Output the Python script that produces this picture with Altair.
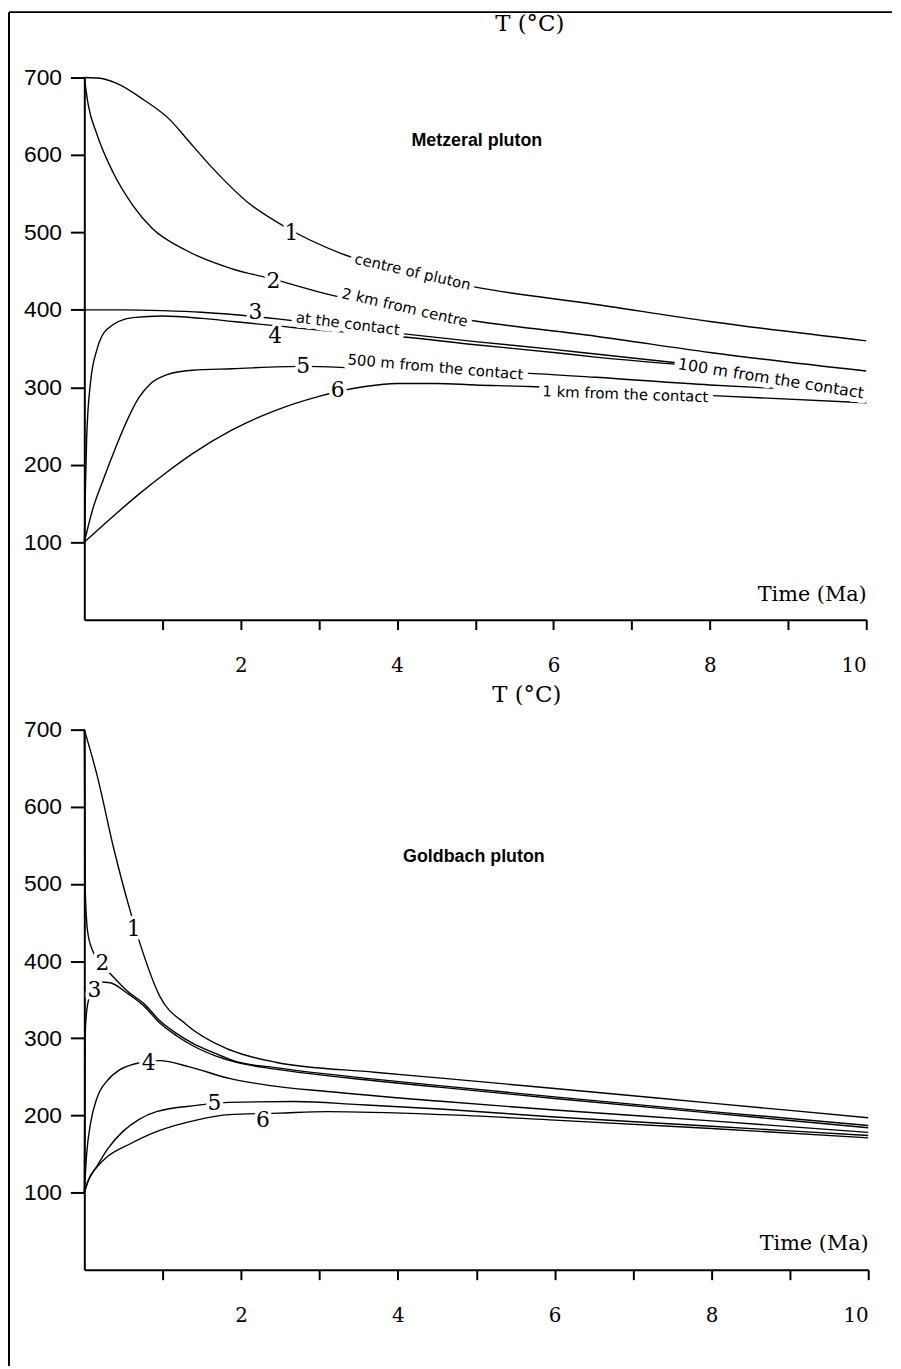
import altair as alt
import pandas as pd

# ---------------- Metzeral pluton (top panel) ----------------
m1_t = [0, 0.2, 0.4, 0.75, 1.1, 1.3, 1.64, 2.1, 2.57, 3.28, 4.0, 5.02, 6.54, 8.0, 10]
m1_T = [700, 699, 693, 672, 645, 622, 583, 538, 507, 473, 451, 429, 407, 385, 360]
m2_t = [0, 0.05, 0.16, 0.37, 0.62, 0.87, 1.3, 1.89, 2.4, 3.16, 4.0, 5.04, 6.54, 8.0, 10]
m2_T = [700, 665, 627, 577, 535, 505, 477, 453, 440, 419, 402, 385, 366, 345, 321]
m3_t = [0, 0.5, 1.0, 1.5, 1.9, 2.5, 3.0, 3.5, 4.09, 5.0, 6.0, 6.54, 7.55]
m3_T = [400, 400, 399, 397, 394, 388, 382, 376, 369, 359, 349, 343, 332]
m4_t = [0, 0.01, 0.03, 0.08, 0.165, 0.29, 0.62, 1.0, 1.5, 1.9, 2.5, 3.0, 3.5, 4.09, 5.0, 6.0, 6.54, 7.55]
m4_T = [100, 150, 234, 307, 350, 375, 390, 392, 389, 385, 379, 374, 370, 365, 355, 345, 339, 330]
m5_t = [0, 0.1, 0.24, 0.4, 0.55, 0.7, 0.85, 1.05, 1.38, 1.89, 2.8, 3.5, 4.5, 5.69, 6.54, 8.0, 9.0, 10]
m5_T = [100, 140, 180, 222, 258, 287, 305, 316, 322, 324, 327, 325, 322, 318, 313, 303, 298, 292]
m6_t = [0, 0.33, 0.71, 1.05, 1.38, 1.89, 2.44, 2.99, 3.59, 4.0, 4.5, 5.0, 5.69, 6.5, 8.1, 10]
m6_T = [100, 130, 163, 190, 214, 245, 270, 288, 301, 305, 305, 303, 301, 296, 289, 280]

# ---------------- Goldbach pluton (bottom panel) ----------------
g1_t = [0, 0.16, 0.38, 0.58, 0.71, 0.96, 1.3, 1.81, 2.06, 2.44, 3.7, 4.59, 6.0, 8.0, 10]
g1_T = [700, 642, 544, 467, 423, 355, 318, 287, 278, 269, 256, 248, 235, 216, 197]
g2_t = [0, 0.01, 0.04, 0.1, 0.2, 0.32, 0.54, 0.76, 0.96, 1.18, 1.39, 1.68, 1.93, 2.44, 3.7, 4.59, 6.0, 8.0, 10]
g2_T = [700, 500, 440, 415, 398, 385, 362, 345, 323, 306, 293, 280, 270, 262, 247, 238, 224, 205, 187]
g3_t = [0, 0.01, 0.03, 0.06, 0.12, 0.2, 0.33, 0.54, 0.76, 0.96, 1.18, 1.39, 1.68, 1.93, 2.44, 3.7, 4.59, 6.0, 8.0, 10]
g3_T = [100, 300, 335, 352, 366, 373, 372, 359, 342, 320, 303, 290, 277, 269, 260, 245, 236, 222, 203, 184]
g4_t = [0, 0.03, 0.08, 0.16, 0.3, 0.45, 0.65, 0.96, 1.34, 1.85, 2.35, 3.1, 4.59, 6.0, 8.0, 10]
g4_T = [100, 150, 190, 222, 246, 259, 267, 271, 263, 248, 239, 231, 218, 207, 193, 178]
g5_t = [0, 0.05, 0.16, 0.3, 0.5, 0.7, 0.92, 1.43, 1.85, 2.69, 3.5, 4.59, 6.0, 8.0, 10]
g5_T = [100, 116, 134, 157, 180, 195, 205, 213, 217, 218, 214, 208, 198, 186, 174]
g6_t = [0, 0.05, 0.1, 0.16, 0.3, 0.58, 0.92, 1.43, 1.85, 2.48, 3.1, 4.59, 6.0, 8.0, 10]
g6_T = [100, 115, 125, 133, 147, 163, 179, 194, 201, 203, 205, 201, 194, 183, 171]

# ---------------- labels ----------------
num_labels = ["1", "2", "3", "4", "5", "6"]
m_num_t = [2.65, 2.42, 2.19, 2.44, 2.8, 3.24]
m_num_T = [499, 437, 397, 366, 328, 296]
g_num_t = [0.63, 0.23, 0.13, 0.82, 1.66, 2.28]
g_num_T = [441, 398, 362, 268, 216, 194]

m_desc = ["centre of pluton", "2 km from centre", "at the contact",
          "500 m from the contact", "1 km from the contact", "100 m from the contact"]
m_desc_t = [4.2, 4.1, 3.37, 4.49, 6.92, 8.78]
m_desc_T = [449, 403, 382, 326, 291, 311]
m_desc_angle = [13, 13, 7, 5, 2, 9]
m_desc_size = [15, 15, 15, 15, 15, 16]

pluton_names = ["Metzeral pluton", "Goldbach pluton"]
pluton_t = [5.02, 4.97]
pluton_T = [618, 535]


def curves(pairs):
    rows = []
    for name, ts, Ts in pairs:
        for t, T in zip(ts, Ts):
            rows.append({"curve": name, "t": t, "T": T})
    return pd.DataFrame(rows)


top_df = curves([("1", m1_t, m1_T), ("2", m2_t, m2_T), ("3", m3_t, m3_T),
                 ("4", m4_t, m4_T), ("5", m5_t, m5_T), ("6", m6_t, m6_T)])
bot_df = curves([("1", g1_t, g1_T), ("2", g2_t, g2_T), ("3", g3_t, g3_T),
                 ("4", g4_t, g4_T), ("5", g5_t, g5_T), ("6", g6_t, g6_T)])

SERIF = "DejaVu Serif"
SANS = "Liberation Sans"


def panel(df, width, height, num_t, num_T, name_t, name_T, name, title_x, title_y,
          xtitle_y, desc=None):
    x = alt.X("t:Q", scale=alt.Scale(domain=[0, 10], nice=False),
              axis=alt.Axis(values=list(range(1, 11)), format="d",
                            labelExpr="datum.value % 2 === 0 ? datum.label : ''",
                            title="Time (Ma)", titleX=width, titleY=xtitle_y,
                            titleAlign="right", titleBaseline="middle",
                            titleFont=SERIF, titleFontSize=21, titleFontWeight="normal",
                            labelFont=SERIF, labelFontSize=20, labelPadding=26,
                            tickSize=10))
    y = alt.Y("T:Q", scale=alt.Scale(domain=[0, 700], nice=False),
              axis=alt.Axis(values=[100, 200, 300, 400, 500, 600, 700], format="d",
                            title="T (°C)", titleAngle=0, titleX=title_x, titleY=title_y,
                            titleAlign="center", titleBaseline="middle",
                            titleFont=SERIF, titleFontSize=23, titleFontWeight="normal",
                            labelFont=SANS, labelFontSize=23, labelPadding=9,
                            tickSize=14))
    lines = alt.Chart(df).mark_line(color="black", strokeWidth=1.4,
                                    interpolate="monotone").encode(
        x=x, y=y, detail="curve:N")

    ndf = pd.DataFrame({"t": num_t, "T": num_T, "label": num_labels})
    nbase = alt.Chart(ndf).encode(x="t:Q", y="T:Q", text="label:N")
    n_halo = nbase.mark_text(font=SERIF, fontSize=22, stroke="white", strokeWidth=7,
                             strokeJoin="round", baseline="middle")
    n_text = nbase.mark_text(font=SERIF, fontSize=22, color="black", baseline="middle")

    pdf = pd.DataFrame({"t": [name_t], "T": [name_T], "label": [name]})
    p_text = alt.Chart(pdf).mark_text(font=SANS, fontSize=18, fontWeight="bold",
                                      color="black", baseline="middle").encode(
        x="t:Q", y="T:Q", text="label:N")

    layers = [lines]
    if desc is not None:
        ddf = pd.DataFrame(desc)
        dbase = alt.Chart(ddf).encode(x="t:Q", y="T:Q", text="label:N",
                                      angle=alt.Angle("angle:Q", scale=None),
                                      size=alt.Size("size:Q", scale=None, legend=None))
        layers.append(dbase.mark_text(font="DejaVu Sans", stroke="white",
                                      strokeWidth=10, strokeJoin="round", baseline="middle"))
        layers.append(dbase.mark_text(font="DejaVu Sans", color="black",
                                      baseline="middle"))
    layers += [n_halo, n_text, p_text]
    return alt.layer(*layers).properties(width=width, height=height)


top = panel(top_df, 789, 547, m_num_t, m_num_T, pluton_t[0], pluton_T[0], pluton_names[0],
            449, -54, -25,
            desc={"t": m_desc_t, "T": m_desc_T, "label": m_desc,
                  "angle": m_desc_angle, "size": m_desc_size})

frame_df = pd.DataFrame({"k": [0]})
frame_left = alt.Chart(frame_df).mark_rule(color="black", strokeWidth=2).encode(
    x=alt.value(-76), y=alt.value(-66), y2=alt.value(1300))
frame_top = alt.Chart(frame_df).mark_rule(color="black", strokeWidth=2).encode(
    x=alt.value(-76), x2=alt.value(815), y=alt.value(-66))
top = alt.layer(top, frame_left, frame_top)

bottom = panel(bot_df, 791, 545, g_num_t, g_num_T, pluton_t[1], pluton_T[1], pluton_names[1],
               446, -35, -26)

chart = alt.vconcat(top, bottom, spacing=111, bounds="flush").properties(
    padding={"left": 0, "top": -3, "right": 0, "bottom": 0}
).configure_view(stroke=None).configure_axis(
    domainColor="black", domainWidth=2, tickColor="black", tickWidth=2,
    grid=False, labelColor="black", titleColor="black"
)

chart.save("out.html", embed_options={"renderer": "svg", "actions": False})
